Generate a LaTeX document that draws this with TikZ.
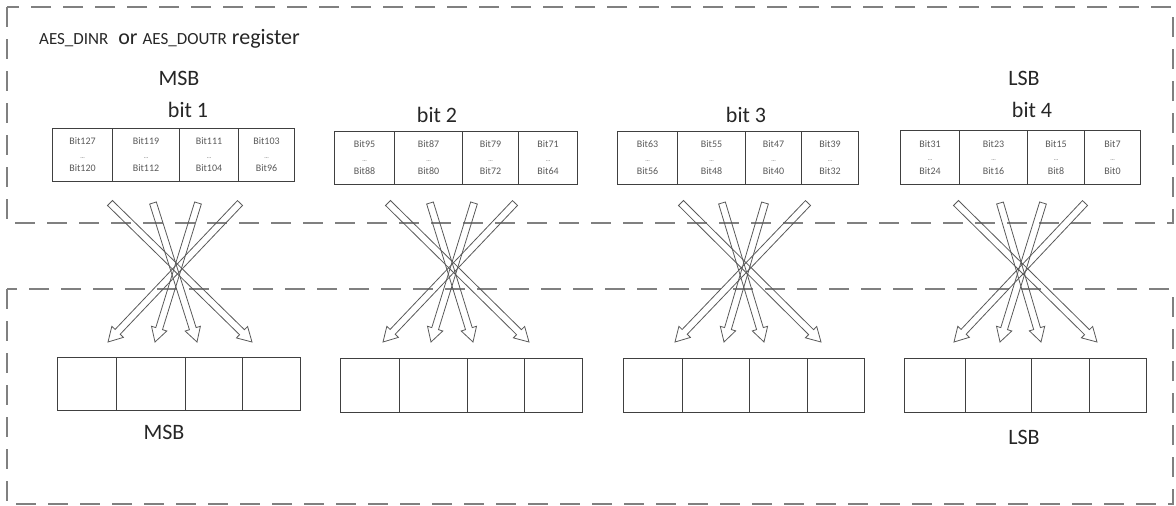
\documentclass[tikz,border=0pt]{standalone}
\usepackage{fontspec}
\setmainfont{Carlito}
\usetikzlibrary{calc}
\tikzset{
  dashbox/.style={draw=black!50, line width=1.8pt, dash pattern=on 20pt off 12pt},
  cell/.style={draw=black!75, line width=1.1pt, inner sep=0pt, anchor=north west,
    font=\fontsize{10}{13.5}\selectfont, text=black!65, align=center},
  emptycell/.style={draw=black!75, line width=1.1pt, inner sep=0pt, anchor=north west},
  lbl/.style={font=\fontsize{22}{24}\selectfont, text=black!85, inner sep=0pt},
  fatarrow/.style={draw=black!65, line width=0.8pt, line join=miter},
}
\newcommand\mkcell[7]{%
  \pgfmathsetmacro\cw{#3-#2}\pgfmathsetmacro\ch{#5-#4}%
  \node[cell, minimum width=\cw pt, minimum height=\ch pt] (#1) at (#2,#4)
    {#6\\{\fontsize{6}{6}\selectfont...}\\#7};}
\newcommand\mkempty[5]{%
  \pgfmathsetmacro\cw{#3-#2}\pgfmathsetmacro\ch{#5-#4}%
  \node[emptycell, minimum width=\cw pt, minimum height=\ch pt] (#1) at (#2,#4) {};}
\newcommand\fatarr[2]{%
  \coordinate (hb) at ($(#2)!14pt!(#1)$);
  \draw[fatarrow] ($(#1)!3.5pt!90:(#2)$) -- ($(hb)!3.5pt!90:(#2)$) -- ($(hb)!8pt!90:(#2)$)
    -- (#2) -- ($(hb)!8pt!-90:(#2)$) -- ($(hb)!3.5pt!-90:(#2)$) -- ($(#1)!3.5pt!-90:(#2)$) -- cycle;}
\begin{document}
\begin{tikzpicture}[x=1pt, y=-1pt]
\useasboundingbox (0,0) rectangle (1176,506);
% frames
\draw[dashbox] (7,7) rectangle (1173,223);
\draw[dashbox] (7,289) rectangle (1173,504);
% labels
\node[lbl, anchor=base west] (title) at (39,45)
  {{\fontsize{17}{20}\selectfont AES\_DINR}\ \ or {\fontsize{17}{20}\selectfont AES\_DOUTR} register};
\node[lbl] (msbtop) at (179,78) {MSB};
\node[lbl] (lsbtop) at (1024,78) {LSB};
\node[lbl] (bit1) at (188,110) {bit 1};
\node[lbl] (bit2) at (437,115) {bit 2};
\node[lbl] (bit3) at (746,115) {bit 3};
\node[lbl] (bit4) at (1032,110) {bit 4};
\node[lbl] (msbbot) at (164,432) {MSB};
\node[lbl] (lsbbot) at (1024,437) {LSB};
% top register cells
\mkcell{a1}{52}{112}{128}{181}{Bit127}{Bit120}
\mkcell{a2}{112}{179}{128}{181}{Bit119}{Bit112}
\mkcell{a3}{179}{238}{128}{181}{Bit111}{Bit104}
\mkcell{a4}{238}{294}{128}{181}{Bit103}{Bit96}
\mkcell{b1}{334}{394}{131}{184}{Bit95}{Bit88}
\mkcell{b2}{394}{462}{131}{184}{Bit87}{Bit80}
\mkcell{b3}{462}{518}{131}{184}{Bit79}{Bit72}
\mkcell{b4}{518}{577}{131}{184}{Bit71}{Bit64}
\mkcell{c1}{617}{677}{131}{184}{Bit63}{Bit56}
\mkcell{c2}{677}{745}{131}{184}{Bit55}{Bit48}
\mkcell{c3}{745}{801}{131}{184}{Bit47}{Bit40}
\mkcell{c4}{801}{858}{131}{184}{Bit39}{Bit32}
\mkcell{d1}{900}{959}{130}{184}{Bit31}{Bit24}
\mkcell{d2}{959}{1027}{130}{184}{Bit23}{Bit16}
\mkcell{d3}{1027}{1084}{130}{184}{Bit15}{Bit8}
\mkcell{d4}{1084}{1140}{130}{184}{Bit7}{Bit0}
% bottom cells
\mkempty{e1}{57}{116}{357}{410}
\mkempty{e2}{116}{185}{357}{410}
\mkempty{e3}{185}{242}{357}{410}
\mkempty{e4}{242}{300}{357}{410}
\mkempty{f1}{340}{399}{358}{412}
\mkempty{f2}{399}{467}{358}{412}
\mkempty{f3}{467}{524}{358}{412}
\mkempty{f4}{524}{582}{358}{412}
\mkempty{g1}{623}{682}{358}{412}
\mkempty{g2}{682}{749}{358}{412}
\mkempty{g3}{749}{807}{358}{412}
\mkempty{g4}{807}{864}{358}{412}
\mkempty{k1}{904}{965}{358}{412}
\mkempty{k2}{965}{1031}{358}{412}
\mkempty{k3}{1031}{1089}{358}{412}
\mkempty{k4}{1089}{1146}{358}{412}
% arrow ends
\foreach \g/\ta/\tb/\tc/\td/\ha/\hb/\hc/\hd in {
  1/110/153/198/240/252/197/155/108,
  2/388/430/474/515/529/473/431/383,
  3/681/722/765/808/821/764/724/675,
  4/956/1000/1043/1085/1097/1041/1000/954}{
  \coordinate (t\g a) at (\ta,203); \coordinate (h\g a) at (\ha,342);
  \coordinate (t\g b) at (\tb,203); \coordinate (h\g b) at (\hb,342);
  \coordinate (t\g c) at (\tc,203); \coordinate (h\g c) at (\hc,342);
  \coordinate (t\g d) at (\td,203); \coordinate (h\g d) at (\hd,342);
}
\foreach \g in {1,2,3,4}{
  \foreach \i in {a,b,c,d}{
    \fatarr{t\g\i}{h\g\i}
  }
}
\end{tikzpicture}
\end{document}
